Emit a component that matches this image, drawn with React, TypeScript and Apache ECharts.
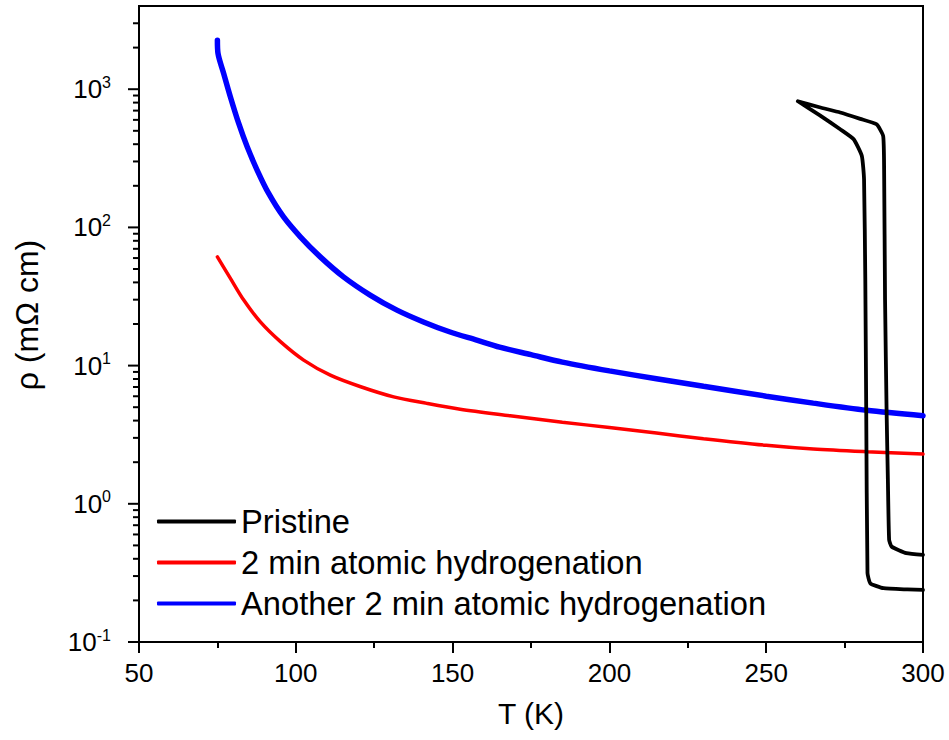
import React, { useEffect, useRef } from "react";
import * as echarts from "echarts";

// ---- data ----
const pristineT = [300, 295, 287.4, 283.2, 282.3, 281.9, 281.6, 281.2, 280.5, 277.9, 273.6, 267, 260.1, 267, 273.6, 280, 285.2, 287.3, 287.6, 287.9, 288.4, 288.8, 289.2, 290, 294.7, 300];
const pristineRho = [0.238, 0.24, 0.245, 0.266, 0.316, 4.56, 42, 223, 329, 434, 513, 650, 818, 740, 678, 610, 557, 459, 263, 30, 4.56, 1.49, 0.548, 0.49, 0.44, 0.427];

const h2T = [75, 79.15, 83.4, 88.7, 95.1, 102.5, 111, 120.7, 131.2, 141.8, 152.4, 168.35, 185, 200, 215, 230, 250, 265, 282, 300];
const h2Rho = [61.2, 42.8, 29.8, 20.7, 14.9, 10.96, 8.53, 7.03, 5.94, 5.33, 4.84, 4.34, 3.89, 3.57, 3.25, 2.96, 2.65, 2.49, 2.38, 2.29];

const h4T = [75, 75.2, 77.0, 79.15, 81.8, 84.5, 87.7, 91.35, 96.1, 101.45, 107.8, 115.2, 123.7, 132.25, 140.7, 149.2, 157.7, 165, 175, 185, 200, 215, 230, 250, 265, 282, 300];
const h4Rho = [2260, 1811, 1300, 879, 565, 383, 259, 176, 119, 85.5, 61.2, 43.9, 32.4, 25.2, 20.7, 17.5, 15.3, 13.6, 12.0, 10.6, 9.16, 8.04, 7.08, 6.01, 5.35, 4.75, 4.34];

const seriesNames = ["Pristine", "2 min atomic hydrogenation", "Another 2 min atomic hydrogenation"];
const seriesColors = ["#000000", "#ff0000", "#0000ff"];

const X_MIN = 50;
const X_MAX = 300;
const X_STEP = 50;
const Y_MIN = 0.1;
const Y_MAX = 4000;
const yMajorTicks = [0.1, 1, 10, 100, 1000];
const yMinorTicks = [
  0.2, 0.3, 0.4, 0.5, 0.6, 0.7, 0.8, 0.9,
  2, 3, 4, 5, 6, 7, 8, 9,
  20, 30, 40, 50, 60, 70, 80, 90,
  200, 300, 400, 500, 600, 700, 800, 900,
  2000, 3000,
];

const FONT = "'Liberation Sans', Arial, Helvetica, sans-serif";

function zip(a: number[], b: number[]) {
  return a.map((v, i) => [v, b[i]]);
}

export default function App() {
  const ref = useRef<HTMLDivElement>(null);
  useEffect(() => {
    if (!ref.current) return;
    const chart = echarts.init(ref.current, null, { renderer: "svg" });
    const tickData = [
      ...yMajorTicks.map((v) => [X_MIN, v, 1]),
      ...yMinorTicks.map((v) => [X_MIN, v, 0]),
    ];
    chart.setOption({
      animation: false,
      backgroundColor: "#ffffff",
      textStyle: { fontFamily: FONT },
      grid: {
        left: 139,
        right: 26,
        top: 6,
        bottom: 98,
        show: true,
        borderColor: "#000",
        borderWidth: 2,
        backgroundColor: "transparent",
      },
      legend: {
        orient: "vertical",
        left: 152,
        top: 500,
        itemWidth: 79,
        itemHeight: 4,
        itemGap: 8,
        data: seriesNames.map((n, i) => ({
          name: n,
          icon: "roundRect",
          itemStyle: { color: seriesColors[i] },
        })),
        textStyle: { fontSize: 32.7, lineHeight: 33, color: "#000", fontFamily: FONT },
      },
      xAxis: {
        type: "value",
        min: X_MIN,
        max: X_MAX,
        interval: X_STEP,
        name: "T (K)",
        nameLocation: "middle",
        nameGap: 56,
        nameTextStyle: { fontSize: 30, color: "#000", fontFamily: FONT },
        axisLine: { show: true, onZero: false, lineStyle: { color: "#000", width: 2 } },
        axisTick: { show: true, inside: false, length: 11, lineStyle: { color: "#000", width: 2 } },
        minorTick: { show: true, splitNumber: 2, length: 6, lineStyle: { color: "#000", width: 2 } },
        axisLabel: { fontSize: 26, color: "#000", margin: 18, fontFamily: FONT },
        splitLine: { show: false },
      },
      yAxis: {
        type: "log",
        logBase: 10,
        min: Y_MIN,
        max: Y_MAX,
        name: "ρ (mΩ cm)",
        nameLocation: "middle",
        nameGap: 96,
        nameTextStyle: { fontSize: 32, color: "#000", fontFamily: FONT, padding: [0, 0, 0, 18] },
        axisLine: { show: true, onZero: false, lineStyle: { color: "#000", width: 2 } },
        axisTick: { show: false },
        splitLine: { show: false },
        axisLabel: {
          margin: 28,
          color: "#000",
          formatter: (v: number) => {
            const l = Math.log10(v);
            const e = Math.round(l);
            if (Math.abs(l - e) > 1e-6) return "";
            return "{b|10}{s|" + e + "}";
          },
          rich: {
            b: { fontSize: 26, fontFamily: FONT, color: "#000" },
            s: { fontSize: 16, fontFamily: FONT, color: "#000", verticalAlign: "top", padding: [0, 0, 14, 0] },
          },
        },
      },
      series: [
        {
          type: "custom",
          name: "yticks",
          silent: true,
          clip: false,
          coordinateSystem: "cartesian2d",
          data: tickData,
          renderItem: (params: any, api: any) => {
            const p = api.coord([api.value(0), api.value(1)]);
            const len = api.value(2) ? 11 : 6;
            return {
              type: "line",
              shape: { x1: p[0] - len, y1: p[1], x2: p[0], y2: p[1] },
              style: { stroke: "#000", lineWidth: 2 },
            };
          },
        },
        {
          name: seriesNames[2],
          type: "line",
          data: zip(h4T, h4Rho),
          showSymbol: false,
          symbol: "none",
          smooth: 0.3,
          lineStyle: { color: seriesColors[2], width: 5.5, cap: "round" },
          itemStyle: { color: seriesColors[2] },
        },
        {
          name: seriesNames[1],
          type: "line",
          data: zip(h2T, h2Rho),
          showSymbol: false,
          symbol: "none",
          smooth: 0.3,
          lineStyle: { color: seriesColors[1], width: 3.5, cap: "round" },
          itemStyle: { color: seriesColors[1] },
        },
        {
          name: seriesNames[0],
          type: "line",
          data: zip(pristineT, pristineRho),
          showSymbol: false,
          symbol: "none",
          smooth: 0.15,
          lineStyle: { color: seriesColors[0], width: 3.8, cap: "round", join: "round" },
          itemStyle: { color: seriesColors[0] },
        },
      ],
    });
    return () => chart.dispose();
  }, []);
  return (
    <div
      ref={ref}
      style={{ position: "fixed", left: 0, top: 0, width: 949, height: 740, background: "#fff" }}
    />
  );
}
